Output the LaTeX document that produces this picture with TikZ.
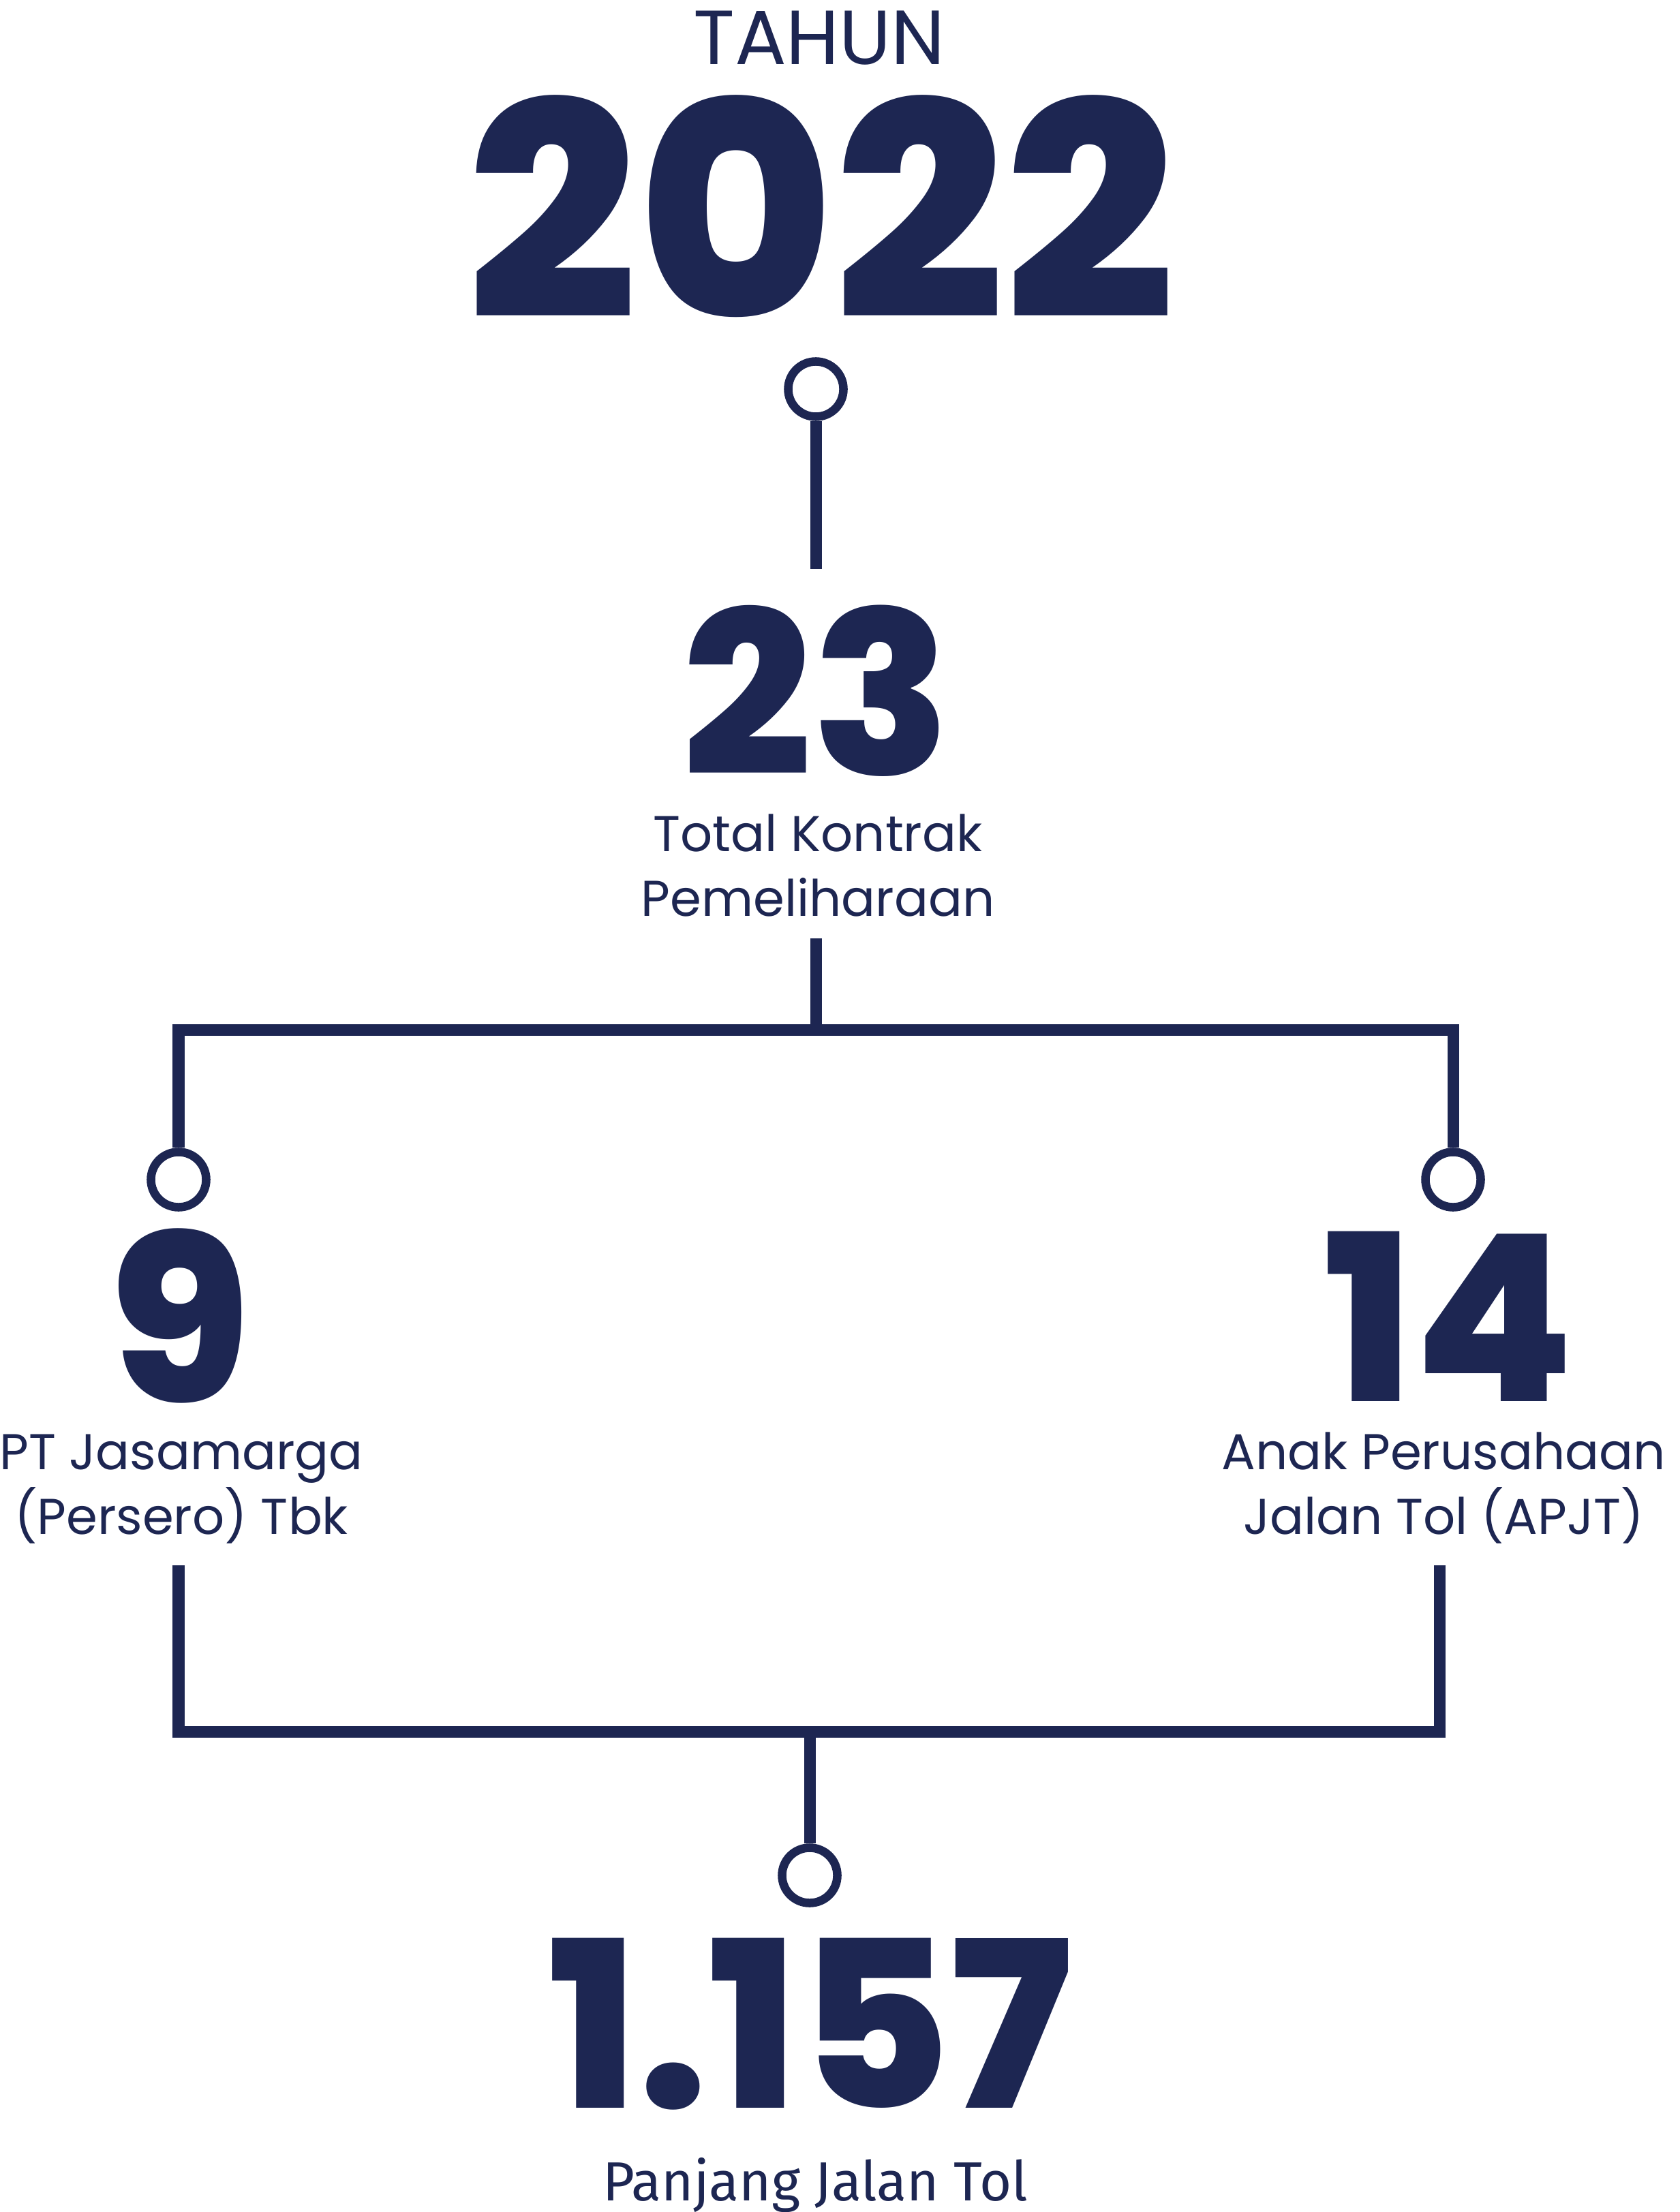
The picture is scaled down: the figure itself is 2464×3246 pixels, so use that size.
\documentclass[tikz,border=0pt]{standalone}
\usepackage{fontspec}
\setmainfont{Poppins}
\newfontfamily\numfont{Poppins ExtraBold}
\newfontfamily\lenfont{Fira Sans}
\usepackage{tikz}
\usetikzlibrary{positioning}
\definecolor{navy}{RGB}{29,38,82}

\begin{document}
\begin{tikzpicture}[x=0.01cm,y=-0.01cm,
  bignum/.style={text=navy,font=\numfont\fontsize{97}{97}\selectfont,inner sep=0pt,anchor=base},
  lbl/.style={text=navy,font=\fontsize{21}{26.74}\selectfont,inner sep=0pt,align=center,anchor=base},
  link/.style={draw=navy,line width=0.17cm,line join=miter},
  dot/.style={circle,draw=navy,line width=0.125cm,fill=white,minimum size=0.81cm,inner sep=0pt}
]
\useasboundingbox (0,0) rectangle (2464,3246);
% year
\node[text=navy,font=\fontsize{32}{32}\selectfont,inner sep=0pt,anchor=base] (tahun) at (1202,95) {TAHUN};
\node[bignum,font=\numfont\fontsize{125}{125}\selectfont] (year) at (1205,468) {2022};
\node[dot] (d1) at (1197,571) {};
\coordinate (s1) at (1197,835);
\draw[link] (d1.south) -- (s1);
% total
\node[bignum,font=\numfont\fontsize{95}{95}\selectfont] (total) at (1198,1137) {23};
\node[lbl] (totlbl) at (1200,1344) {Total Kontrak\\Pemeliharaan};
\coordinate (s2) at (1197,1377);
\coordinate (s3) at (1197,1511);
\draw[link] (s2) -- (s3);
% split
\node[dot] (dl) at (262,1731) {};
\node[dot] (dr) at (2132,1731) {};
\draw[link] (dl.north) |- (s3) -| (dr.north);
\node[bignum] (jm) at (264,2057) {9};
\node[lbl] (jmlbl) at (266,2251) {PT Jasamarga\\(Persero) Tbk};
\node[bignum] (apjt) at (2126,2056) {14};
\node[lbl] (apjtlbl) at (2118,2251) {Anak Perusahaan\\Jalan Tol (APJT)};
% join
\coordinate (jl) at (262,2297);
\coordinate (jr) at (2112,2297);
\coordinate (s4) at (1188,2541);
\node[dot] (d4) at (1188,2752) {};
\draw[link] (jl) |- (s4) -| (jr);
\draw[link] (s4) -- (d4.north);
\node[bignum] (len) at (1189,3093) {1.157};
\node[text=navy,font=\lenfont\fontsize{23}{23}\selectfont,inner sep=0pt,anchor=base] (lenlbl) at (1196,3229) {Panjang Jalan Tol};
\end{tikzpicture}
\end{document}
